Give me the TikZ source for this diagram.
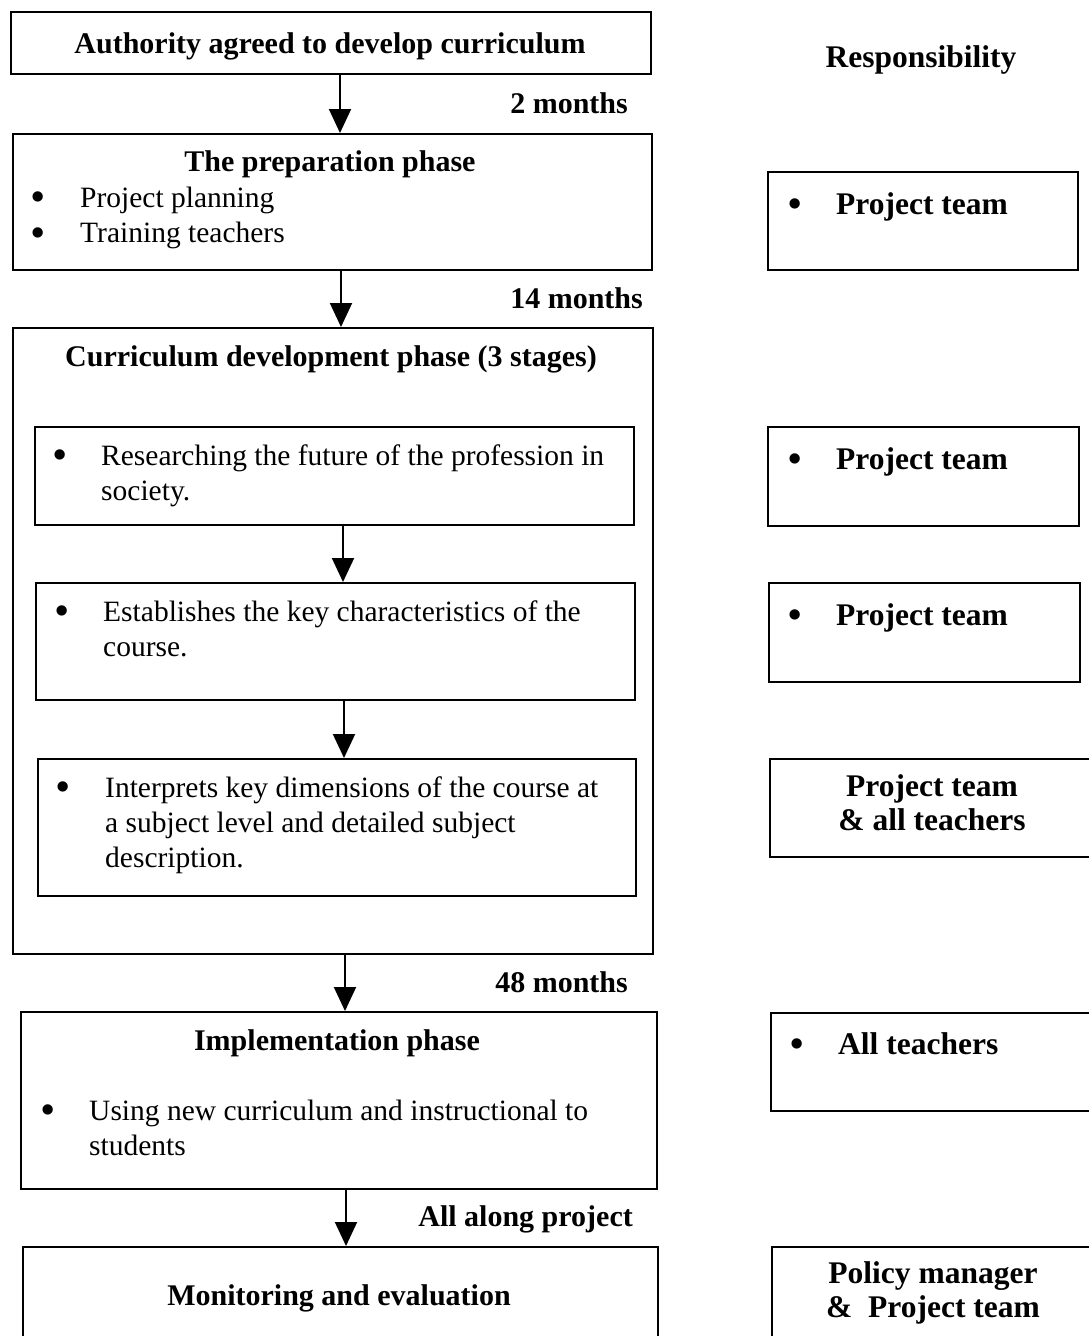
\documentclass[tikz,border=0pt]{standalone}
\usepackage{fontspec}
\setmainfont{Liberation Serif}
\usetikzlibrary{arrows.meta}
\begin{document}
\begin{tikzpicture}[x=1pt,y=-1pt,
  box/.style={draw, line width=2pt, inner sep=0pt, anchor=north west},
  arr/.style={line width=2pt, -{Triangle[width=22pt,length=24pt]}},
  ttl/.style={font=\fontsize{30}{35}\selectfont\bfseries, inner sep=0pt, anchor=base},
  dur/.style={font=\fontsize{30}{35}\selectfont\bfseries, inner sep=0pt, anchor=base east},
  txt/.style={font=\fontsize{29.5}{35}\selectfont, inner sep=0pt, anchor=north west, align=left},
  bul/.style={font=\fontsize{38}{35}\selectfont\bfseries, inner sep=0pt, anchor=base},
  rtxt/.style={font=\fontsize{31.5}{34}\selectfont\bfseries, inner sep=0pt, anchor=base west},
  rbul/.style={font=\fontsize{38}{34}\selectfont\bfseries, inner sep=0pt, anchor=base},
  rctr/.style={font=\fontsize{31.5}{34}\selectfont\bfseries, inner sep=0pt, anchor=north, align=center}
]
\path[use as bounding box] (0,0) rectangle (1089,1336);
\clip (0,0) rectangle (1089,1336);

% left column boxes
\node[box, minimum width=640pt, minimum height=62pt] (b1) at (10,11) {};
\node[box, minimum width=639pt, minimum height=136pt] (b2) at (12,133) {};
\node[box, minimum width=640pt, minimum height=626pt] (b3) at (12,327) {};
\node[box, minimum width=599pt, minimum height=98pt] (s1) at (34,426) {};
\node[box, minimum width=599pt, minimum height=117pt] (s2) at (35,582) {};
\node[box, minimum width=598pt, minimum height=137pt] (s3) at (37,758) {};
\node[box, minimum width=636pt, minimum height=177pt] (b4) at (20,1011) {};
\node[box, minimum width=635pt, minimum height=99pt] (b5) at (22,1246) {};

% right column boxes
\node[box, minimum width=310pt, minimum height=98pt] (r1) at (767,171) {};
\node[box, minimum width=311pt, minimum height=99pt] (r2) at (767,426) {};
\node[box, minimum width=311pt, minimum height=99pt] (r3) at (768,582) {};
\node[box, minimum width=326pt, minimum height=98pt] (r4) at (769,758) {};
\node[box, minimum width=325pt, minimum height=98pt] (r5) at (770,1012) {};
\node[box, minimum width=324pt, minimum height=99pt] (r6) at (771,1246) {};

% connectors
\coordinate (c1) at (340,0);
\coordinate (c2) at (341,0);
\coordinate (c3) at (343,0);
\coordinate (c4) at (344,0);
\coordinate (c5) at (345,0);
\coordinate (c6) at (346,0);
\draw[arr] (b1.south -| c1) -- (b2.north -| c1);
\draw[arr] (b2.south -| c2) -- (b3.north -| c2);
\draw[arr] (s1.south -| c3) -- (s2.north -| c3);
\draw[arr] (s2.south -| c4) -- (s3.north -| c4);
\draw[arr] (b3.south -| c5) -- (b4.north -| c5);
\draw[arr] (b4.south -| c6) -- (b5.north -| c6);

% durations
\node[dur] (d1) at (628,113) {2 months};
\node[dur] (d2) at (643,308) {14 months};
\node[dur] (d3) at (628,992) {48 months};
\node[dur] (d4) at (633,1226) {All along project};

% left texts
\node[ttl] (t1) at (330,53) {Authority agreed to develop curriculum};
\node[ttl] (t2) at (330,171) {The preparation phase};
\node[bul] (p1) at (38,209) {•};
\node[bul] (p2) at (38,245) {•};
\node[txt] (pt) at (80,182.5) {\strut Project planning\\Training teachers};

\node[ttl] (t3) at (331,366) {Curriculum development phase (3 stages)};
\node[bul] (q1) at (60,467) {•};
\node[txt] (qt1) at (101,440.5) {\strut Researching the future of the profession in\\society.};
\node[bul] (q2) at (62,623) {•};
\node[txt] (qt2) at (103,596.5) {\strut Establishes the key characteristics of the\\course.};
\node[bul] (q3) at (63,799) {•};
\node[txt] (qt3) at (105,772.5) {\strut Interprets key dimensions of the course at\\a subject level and detailed subject\\description.};

\node[ttl] (t4) at (337,1050) {Implementation phase};
\node[bul] (u1) at (48,1122) {•};
\node[txt] (ut) at (89,1095.5) {\strut Using new curriculum and instructional to\\students};

\node[ttl] (t5) at (339,1305) {Monitoring and evaluation};

% right texts
\node[font=\fontsize{31.5}{34}\selectfont\bfseries, inner sep=0pt, anchor=base] (resp) at (921,67) {Responsibility};
\node[rbul] (rb1) at (795,216) {•};
\node[rtxt] (rt1) at (836,214) {Project team};
\node[rbul] (rb2) at (795,471) {•};
\node[rtxt] (rt2) at (836,469) {Project team};
\node[rbul] (rb3) at (795,627) {•};
\node[rtxt] (rt3) at (836,625) {Project team};
\node[rctr] (rt4) at (932,772) {\strut Project team\\\& all teachers};
\node[rbul] (rb5) at (797,1056) {•};
\node[rtxt] (rt5) at (838,1054) {All teachers};
\node[rctr] (rt6) at (933,1259) {\strut Policy manager\\\&~~Project team};
\end{tikzpicture}
\end{document}
